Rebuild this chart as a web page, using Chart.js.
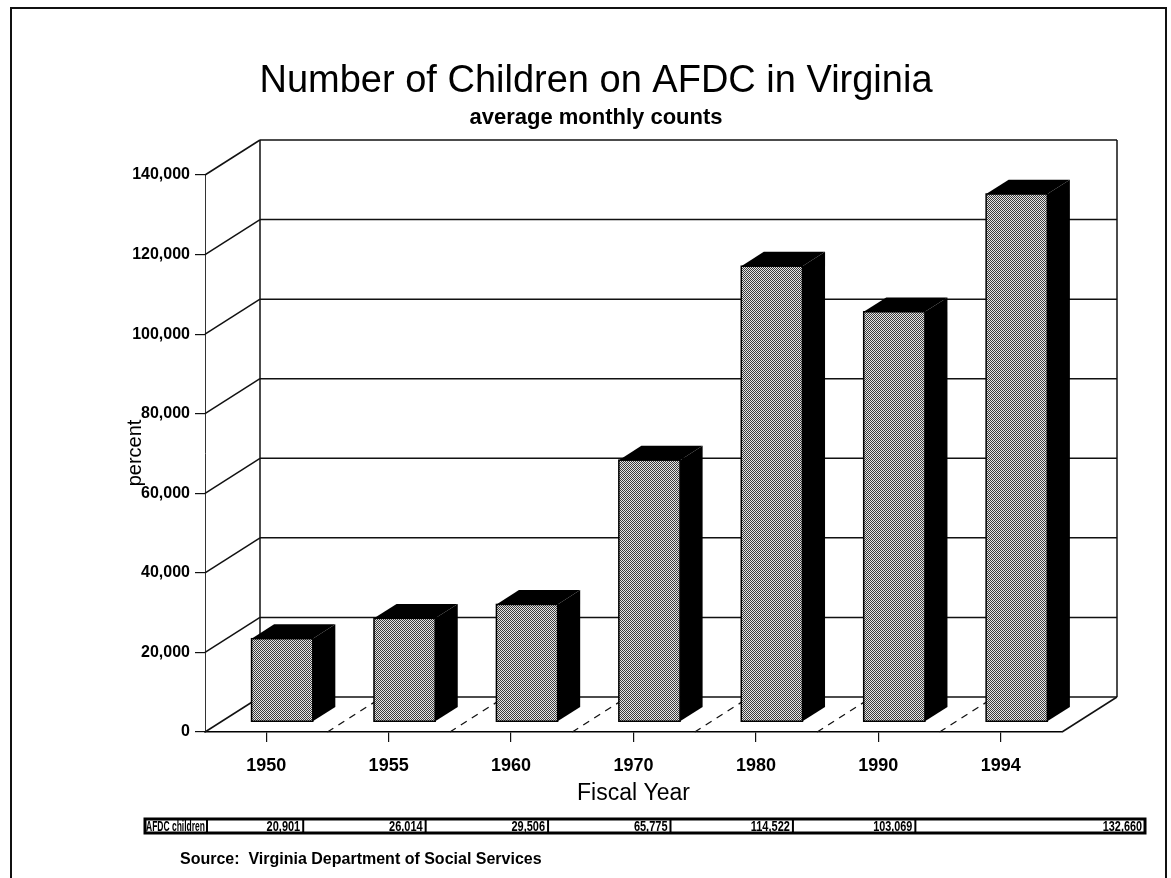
<!DOCTYPE html>
<html>
<head>
<meta charset="utf-8">
<title>Number of Children on AFDC in Virginia</title>
<script src="https://cdn.jsdelivr.net/npm/chart.js@4.4.1/dist/chart.umd.min.js"></script>
<style>
  html, body { margin: 0; padding: 0; background: #fff; }
  canvas { display: block; }
</style>
</head>
<body>
<canvas id="afdc" width="1171" height="878"></canvas>
<script>
// Fiscal years shown on the category axis
const fiscalYears = ['1950', '1955', '1960', '1970', '1980', '1990', '1994'];
// Average monthly count of children on AFDC
const afdcChildren = [20901, 26014, 29506, 65775, 114522, 103069, 132660];
// Value axis range and step
const yMin = 0;
const yMax = 140000;
const yStep = 20000;
const rowLabel = 'AFDC children';
const titleText = 'Number of Children on AFDC in Virginia';
const subtitleText = 'average monthly counts';
const yTitleText = 'percent';
const xTitleText = 'Fiscal Year';
const sourceText = 'Source:  Virginia Department of Social Services';

const FONT = "'Liberation Sans', Arial, Helvetica, sans-serif";

// Depth of the box (back wall offset) and where the bars sit inside it
const DEPTH_X = 55, DEPTH_Y = -35;
const BAR_FRONT = 0.29, BAR_BACK = 0.70;

// Fine halftone used on the bar faces
function halftone() {
  const tile = document.createElement('canvas');
  tile.width = 4; tile.height = 4;
  const t = tile.getContext('2d');
  t.fillStyle = '#e6e6e6';
  t.fillRect(0, 0, 4, 4);
  t.fillStyle = '#3c3c3c';
  for (let yy = 0; yy < 4; yy++) {
    for (let xx = 0; xx < 4; xx++) {
      if ((xx + yy) % 2 === 0) t.fillRect(xx, yy, 1, 1);
    }
  }
  return tile;
}

function seg(ctx, x1, y1, x2, y2) {
  ctx.beginPath();
  ctx.moveTo(x1, y1);
  ctx.lineTo(x2, y2);
  ctx.stroke();
}

const box3d = {
  id: 'box3d',
  beforeDatasetsDraw(chart) {
    const { ctx, chartArea: a, scales: { x, y } } = chart;
    ctx.save();
    ctx.strokeStyle = '#111';
    ctx.lineWidth = 1.5;
    // side wall diagonals and back wall grid lines
    y.ticks.forEach(t => {
      const py = y.getPixelForValue(t.value);
      seg(ctx, a.left, py, a.left + DEPTH_X, py + DEPTH_Y);
      seg(ctx, a.left + DEPTH_X, py + DEPTH_Y, a.right + DEPTH_X, py + DEPTH_Y);
    });
    // back wall edges
    seg(ctx, a.left + DEPTH_X, a.top + DEPTH_Y, a.left + DEPTH_X, a.bottom + DEPTH_Y);
    seg(ctx, a.right + DEPTH_X, a.top + DEPTH_Y, a.right + DEPTH_X, a.bottom + DEPTH_Y);
    // floor right edge
    seg(ctx, a.right, a.bottom, a.right + DEPTH_X, a.bottom + DEPTH_Y);
    // dashed floor dividers between categories
    ctx.setLineDash([7, 6]);
    ctx.lineWidth = 1.3;
    for (let i = 0; i < fiscalYears.length - 1; i++) {
      const bx = (x.getPixelForValue(i) + x.getPixelForValue(i + 1)) / 2;
      seg(ctx, bx, a.bottom, bx + DEPTH_X, a.bottom + DEPTH_Y);
    }
    ctx.restore();
  },
  afterDatasetsDraw(chart) {
    const { ctx } = chart;
    const meta = chart.getDatasetMeta(0);
    const pattern = ctx.createPattern(halftone(), 'repeat');
    const fx = BAR_FRONT * DEPTH_X, fy = BAR_FRONT * DEPTH_Y;
    const dx = (BAR_BACK - BAR_FRONT) * DEPTH_X, dy = (BAR_BACK - BAR_FRONT) * DEPTH_Y;
    ctx.save();
    meta.data.forEach(el => {
      const { x, y, base, width } = el.getProps(['x', 'y', 'base', 'width'], true);
      const x0 = x - width / 2 + fx, x1 = x + width / 2 + fx;
      const yt = y + fy, yb = base + fy;
      ctx.fillStyle = '#000';
      // top face
      ctx.beginPath();
      ctx.moveTo(x0, yt); ctx.lineTo(x1, yt);
      ctx.lineTo(x1 + dx, yt + dy); ctx.lineTo(x0 + dx, yt + dy);
      ctx.closePath(); ctx.fill();
      // side face
      ctx.beginPath();
      ctx.moveTo(x1, yt); ctx.lineTo(x1 + dx, yt + dy);
      ctx.lineTo(x1 + dx, yb + dy); ctx.lineTo(x1, yb);
      ctx.closePath(); ctx.fill();
      // front face
      ctx.fillStyle = pattern;
      ctx.fillRect(x0, yt, x1 - x0, yb - yt);
      ctx.strokeStyle = '#000';
      ctx.lineWidth = 1.5;
      ctx.strokeRect(x0, yt, x1 - x0, yb - yt);
    });
    ctx.restore();
  },
  afterDraw(chart) {
    const { ctx, scales: { x } } = chart;
    ctx.save();
    // page frame
    ctx.strokeStyle = '#111';
    ctx.lineWidth = 2;
    ctx.strokeRect(11, 8, 1155, 900);

    // value axis title
    ctx.save();
    ctx.translate(135, 453);
    ctx.rotate(-Math.PI / 2);
    ctx.fillStyle = '#000';
    ctx.font = '20px ' + FONT;
    ctx.textAlign = 'center';
    ctx.textBaseline = 'middle';
    ctx.fillText(yTitleText, 0, 0);
    ctx.restore();

    // data table row
    const tl = 145, tr = 1145, tt = 819, tb = 833;
    ctx.strokeStyle = '#000';
    ctx.lineWidth = 3;
    ctx.strokeRect(tl, tt, tr - tl, tb - tt);
    ctx.fillStyle = '#000';
    ctx.font = 'bold 14px ' + FONT;
    ctx.textBaseline = 'alphabetic';
    ctx.textAlign = 'left';
    const labelEnd = 207;
    ctx.fillText(rowLabel, tl + 1, tb - 2, labelEnd - tl - 3);
    ctx.lineWidth = 2;
    seg(ctx, labelEnd, tt, labelEnd, tb);
    ctx.textAlign = 'right';
    afdcChildren.forEach((v, i) => {
      const last = i === afdcChildren.length - 1;
      const right = last ? tr : x.getPixelForValue(i) + 37;
      const txt = v.toLocaleString('en-US');
      ctx.fillText(txt, right - 3, tb - 2, txt.length * 5.6);
      if (!last) seg(ctx, right, tt, right, tb);
    });

    // source note
    ctx.textAlign = 'left';
    ctx.font = 'bold 16px ' + FONT;
    ctx.fillText(sourceText, 180, 864);
    ctx.restore();
  }
};

Chart.defaults.font.family = FONT;
Chart.defaults.color = '#000';

new Chart(document.getElementById('afdc'), {
  type: 'bar',
  data: {
    labels: fiscalYears,
    datasets: [{
      label: rowLabel,
      data: afdcChildren,
      backgroundColor: 'rgba(0,0,0,0)',
      borderWidth: 0,
      categoryPercentage: 1,
      barPercentage: 0.5
    }]
  },
  options: {
    responsive: false,
    animation: false,
    devicePixelRatio: 1,
    locale: 'en-US',
    layout: { padding: { left: 130, right: 109, top: 0, bottom: 71 } },
    plugins: {
      legend: { display: false },
      tooltip: { enabled: false },
      title: {
        display: true,
        text: titleText,
        font: { size: 38, weight: 'normal', family: FONT },
        color: '#000',
        padding: { top: 59, bottom: 0 }
      },
      subtitle: {
        display: true,
        text: subtitleText,
        font: { size: 22, weight: 'bold', family: FONT },
        color: '#000',
        padding: { top: 0, bottom: 44 }
      }
    },
    scales: {
      x: {
        offset: true,
        grid: {
          display: true,
          drawOnChartArea: false,
          offset: false,
          tickLength: 10,
          color: '#111',
          lineWidth: 1.2
        },
        border: { display: true, color: '#000', width: 1.5 },
        ticks: {
          font: { size: 18, weight: 'bold', family: FONT },
          color: '#000',
          padding: 13,
          maxRotation: 0
        },
        title: {
          display: true,
          text: xTitleText,
          font: { size: 23, weight: 'normal', family: FONT },
          color: '#000',
          padding: 0
        },
        afterFit(scale) { scale.height = 75; }
      },
      y: {
        min: yMin,
        max: yMax,
        grid: {
          display: true,
          drawOnChartArea: false,
          tickLength: 10,
          color: '#111',
          lineWidth: 1.2
        },
        border: { display: true, color: '#333', width: 1, dash: [3, 2] },
        ticks: {
          stepSize: yStep,
          font: { size: 16, weight: 'bold', family: FONT },
          color: '#000',
          padding: 5
        },
        title: { display: false },
        afterFit(scale) { scale.width = 75; }
      }
    }
  },
  plugins: [box3d]
});
</script>
</body>
</html>
